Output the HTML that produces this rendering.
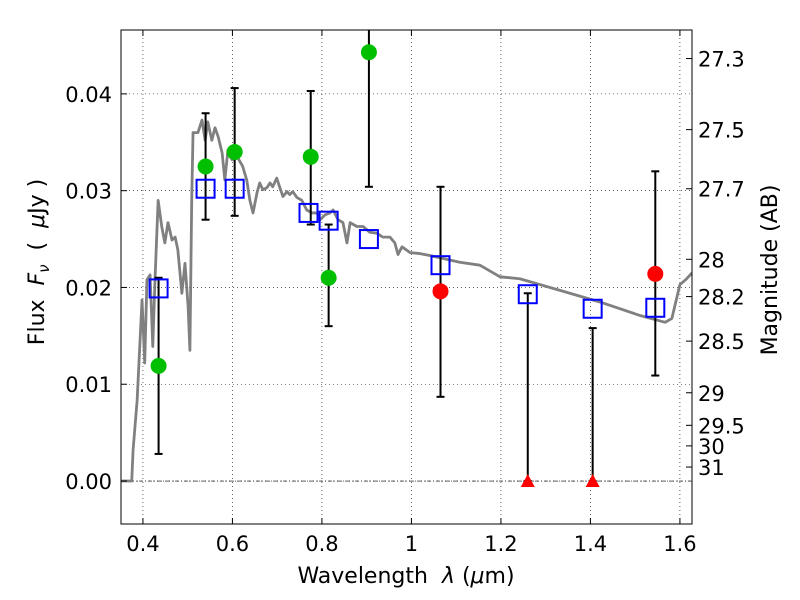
<!DOCTYPE html>
<html><head><meta charset="utf-8"><style>
body{margin:0;background:#fff}
svg{display:block;font-family:"DejaVu Sans","Liberation Sans",sans-serif}
</style></head><body>
<svg id="chart" width="800" height="600"></svg>
<script>
const specWl=[0.351,0.375,0.378,0.387,0.398,0.404,0.409,0.416,0.422,0.427,0.434,0.442,0.449,0.456,0.465,0.472,0.478,0.487,0.494,0.501,0.505,0.509,0.512,0.523,0.532,0.539,0.545,0.554,0.561,0.568,0.577,0.583,0.590,0.599,0.612,0.623,0.632,0.639,0.646,0.655,0.661,0.668,0.677,0.684,0.690,0.699,0.706,0.713,0.722,0.728,0.735,0.744,0.755,0.766,0.778,0.789,0.796,0.807,0.818,0.825,0.836,0.847,0.856,0.863,0.878,0.892,0.907,0.923,0.936,0.952,0.963,0.970,0.979,0.997,1.019,1.041,1.108,1.153,1.198,1.242,1.332,1.421,1.511,1.567,1.582,1.600,1.613,1.627];
const specFlux=[0,0,0.0032,0.0083,0.0187,0.0122,0.0208,0.0213,0.0139,0.0208,0.0290,0.0263,0.0246,0.0267,0.0249,0.0252,0.0239,0.0194,0.0225,0.0180,0.0135,0.0290,0.0360,0.0360,0.0373,0.0352,0.0371,0.0352,0.0365,0.0356,0.0339,0.0311,0.0342,0.0332,0.0334,0.0325,0.0311,0.0290,0.0277,0.0298,0.0308,0.0301,0.0303,0.0308,0.0304,0.0313,0.0303,0.0294,0.0299,0.0296,0.0299,0.0293,0.0290,0.0280,0.0277,0.0277,0.0270,0.0275,0.0277,0.0280,0.0270,0.0267,0.0246,0.0267,0.0263,0.0263,0.0257,0.0256,0.0252,0.0252,0.0246,0.0234,0.0242,0.0236,0.0235,0.0233,0.0226,0.0223,0.0211,0.0209,0.0197,0.0185,0.0171,0.0164,0.0168,0.0203,0.0208,0.0215];
const greenWl=[0.435,0.54,0.605,0.775,0.815,0.905];
const greenFlux=[0.0119,0.0325,0.034,0.0335,0.021,0.0443];
const greenLo=[0.0028,0.027,0.0274,0.0265,0.016,0.0304];
const greenHi=[0.021,0.038,0.0406,0.0403,0.0265,0.05];
const redWl=[1.065,1.545];
const redFlux=[0.0196,0.0214];
const redLo=[0.0087,0.0109];
const redHi=[0.0304,0.032];
const limWl=[1.26,1.405];
const limHi=[0.0194,0.0158];
const modelWl=[0.435,0.54,0.605,0.77,0.815,0.905,1.065,1.26,1.405,1.545];
const modelFlux=[0.0199,0.0302,0.0302,0.0277,0.0269,0.025,0.0223,0.0193,0.0178,0.0179];
const xTicks=[0.4,0.6,0.8,1,1.2,1.4,1.6];
const xTickLabels=["0.4","0.6","0.8","1","1.2","1.4","1.6"];
const yTicks=[0,0.01,0.02,0.03,0.04];
const yTickLabels=["0.00","0.01","0.02","0.03","0.04"];
const magTicks=[27.3,27.5,27.7,28,28.2,28.5,29,29.5,30,31];

const L=121,R=692,T=30,B=524;
const xMin=0.351,xMax=1.627,yMin=-0.00444,yMax=0.0466;
const X=v=>L+(v-xMin)/(xMax-xMin)*(R-L);
const Y=v=>B-(v-yMin)/(yMax-yMin)*(B-T);
const NS="http://www.w3.org/2000/svg";
const svg=document.getElementById('chart');
function el(tag,attrs,parent){const e=document.createElementNS(NS,tag);for(const k in attrs)e.setAttribute(k,attrs[k]);(parent||svg).appendChild(e);return e;}
const clip=el('clipPath',{id:'pc'});el('rect',{x:L,y:T,width:R-L,height:B-T},clip);

xTicks.forEach((t,i)=>{const g=el('line',{x1:X(t),x2:X(t),y1:T,y2:B,stroke:'#000','stroke-width':0.6,'stroke-dasharray':'1,3'});

});
yTicks.forEach(t=>{const g=el('line',{x1:L,x2:R,y1:Y(t),y2:Y(t),stroke:'#000','stroke-width':0.6,'stroke-dasharray':'1,3'});

});
const zl=el('line',{x1:L,x2:R,y1:Y(0),y2:Y(0),stroke:'#000','stroke-width':0.6,'stroke-dasharray':'4,2,1,2'});



const sp=el('polyline',{points:specWl.map((w,i)=>X(w)+','+Y(specFlux[i])).join(' '),fill:'none',stroke:'#808080','stroke-width':2.8,'stroke-linejoin':'round','clip-path':'url(#pc)'});



function errbar(x,lo,hi,name){const g=el('g',{'clip-path':'url(#pc)'});


el('line',{x1:X(x),x2:X(x),y1:Y(lo),y2:Y(hi),stroke:'#000','stroke-width':2},g);
el('line',{x1:X(x)-4,x2:X(x)+4,y1:Y(lo),y2:Y(lo),stroke:'#000','stroke-width':2},g);
el('line',{x1:X(x)-4,x2:X(x)+4,y1:Y(hi),y2:Y(hi),stroke:'#000','stroke-width':2},g);}
greenWl.forEach((w,i)=>errbar(w,greenLo[i],greenHi[i],'green-errorbar'));
redWl.forEach((w,i)=>errbar(w,redLo[i],redHi[i],'red-errorbar'));
limWl.forEach((w,i)=>errbar(w,0,limHi[i],'limit-errorbar'));

modelWl.forEach((w,i)=>{const r=el('rect',{x:X(w)-9,y:Y(modelFlux[i])-9,width:18,height:18,fill:'none',stroke:'#0000ff','stroke-width':2});

});
greenWl.forEach((w,i)=>{const c=el('circle',{cx:X(w),cy:Y(greenFlux[i]),r:8,fill:'#00bf00','clip-path':'url(#pc)'});

});
redWl.forEach((w,i)=>{const c=el('circle',{cx:X(w),cy:Y(redFlux[i]),r:8,fill:'#ff0000'});

});
limWl.forEach(w=>{const x=X(w),y=Y(0);const p=el('polygon',{points:`${x-7},${y+6} ${x+7},${y+6} ${x},${y-7}`,fill:'#ff0000'});

});

const fr=el('rect',{x:L,y:T,width:R-L,height:B-T,fill:'none',stroke:'#000','stroke-width':1});



xTicks.forEach((t,i)=>{el('line',{x1:X(t),x2:X(t),y1:B,y2:B-6,stroke:'#000'});el('line',{x1:X(t),x2:X(t),y1:T,y2:T+6,stroke:'#000'});
const tx=el('text',{x:X(t),y:B+27,'text-anchor':'middle','font-size':21});tx.textContent=xTickLabels[i];

});
yTicks.forEach((t,i)=>{el('line',{x1:L,x2:L+6,y1:Y(t),y2:Y(t),stroke:'#000'});
const tx=el('text',{x:L-9,y:Y(t)+8,'text-anchor':'end','font-size':21});tx.textContent=yTickLabels[i];

});
magTicks.forEach(m=>{const f=Math.pow(10,(23.9-m)/2.5);const y=Y(f);
el('line',{x1:R,x2:R-6,y1:y,y2:y,stroke:'#000'});
const tx=el('text',{x:R+6,y:y+8,'font-size':21});tx.textContent=String(m);

});
</script>
<svg width="800" height="600" style="position:absolute;left:0;top:0;font-family:'DejaVu Sans','Liberation Sans',sans-serif">
<text x="406" y="583" text-anchor="middle" font-size="22" xml:space="preserve">Wavelength  <tspan font-style="italic">λ</tspan> (<tspan font-style="italic">μ</tspan>m)</text>
<text transform="translate(44,262) rotate(-90)" text-anchor="middle" font-size="22" xml:space="preserve">Flux  <tspan font-style="italic">F<tspan font-size="15" dy="5">ν</tspan></tspan><tspan dy="-5">  (  </tspan><tspan font-style="italic">μ</tspan>Jy )</text>
<text transform="translate(777,270) rotate(-90)" text-anchor="middle" font-size="22">Magnitude (AB)</text>
</svg>
</body></html>
